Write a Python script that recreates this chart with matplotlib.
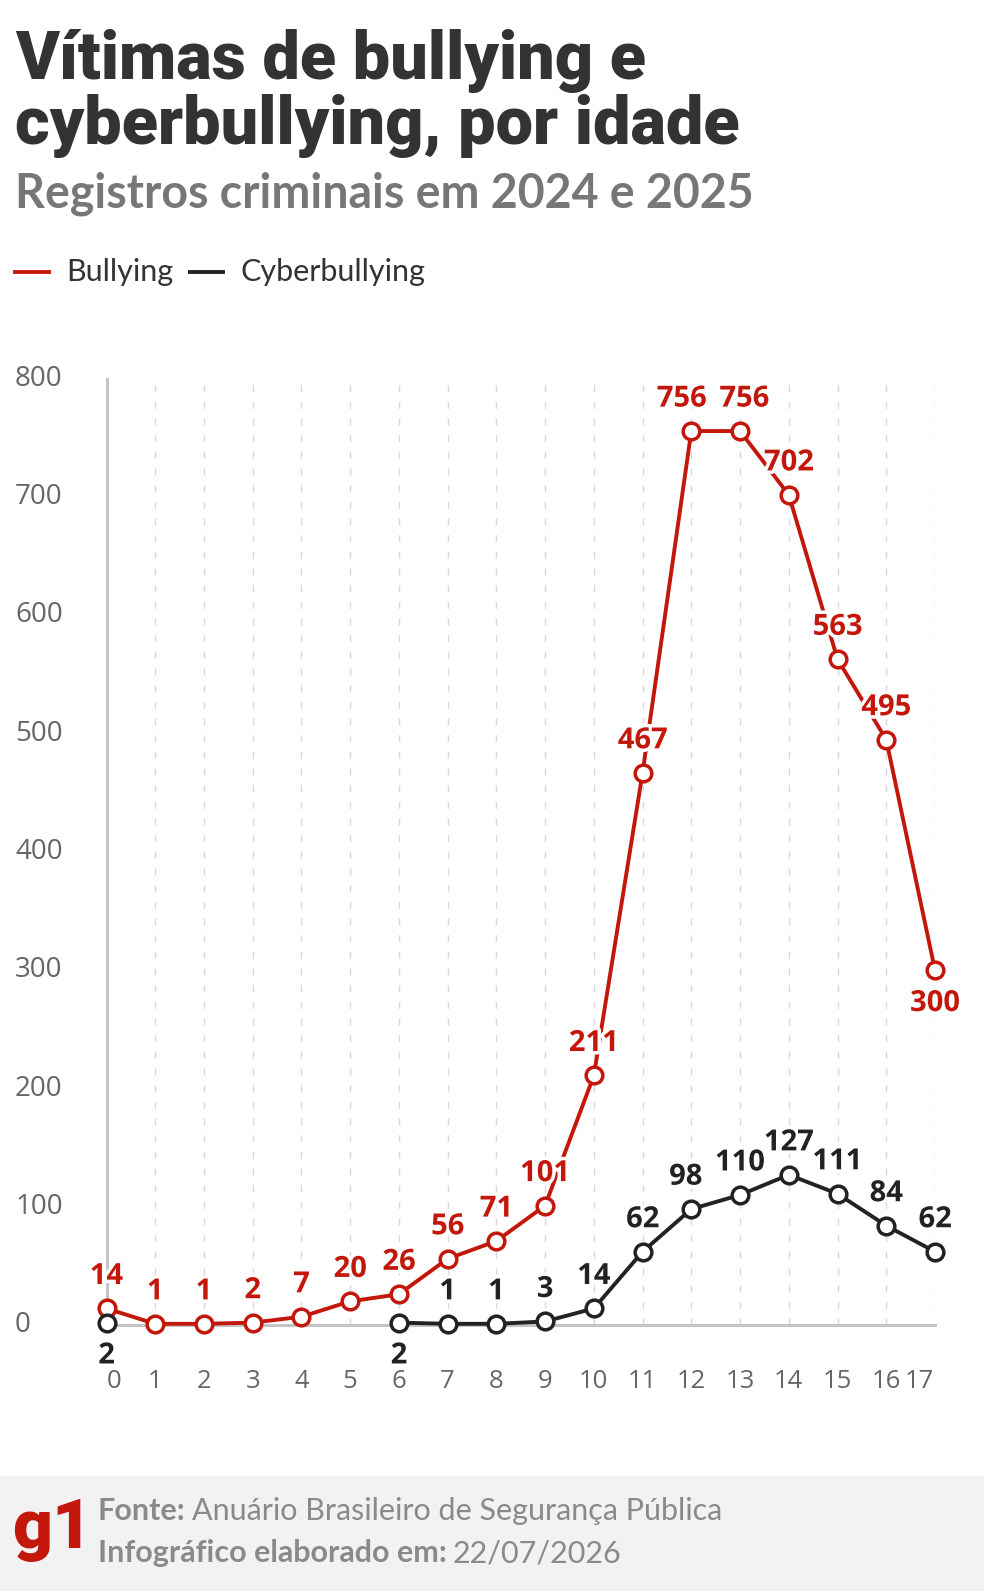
import matplotlib

matplotlib.use("Agg")
import matplotlib.pyplot as plt
import matplotlib.patheffects as pe
from matplotlib.lines import Line2D
from matplotlib.patches import Rectangle
from matplotlib.transforms import blended_transform_factory

# data
ages = list(range(18))
bullying = [14, 1, 1, 2, 7, 20, 26, 56, 71, 101, 211, 467, 756, 756, 702, 563, 495, 300]
cyber = [2, None, None, None, None, None, 2, 1, 1, 3, 14, 62, 98, 110, 127, 111, 84, 62]
yticks = [0, 100, 200, 300, 400, 500, 600, 700, 800]

# labels drawn below the point instead of above
bullying_below = [17]
cyber_below = [0, 6]
# small sideways nudges (points) where labels would collide
bullying_nudge = {12: -7, 13: 3}
cyber_nudge = {12: -4}

RED = "#c4170c"
DARK = "#222222"
TITLE = "#333333"
GRAY = "#777777"
HEAVY = "Roboto"
BODY = "Open Sans"

W, H = 984, 1591
fig = plt.figure(figsize=(W / 100, H / 100), dpi=100)


def fx(px):
    return px / W


def fy(py):
    return 1 - py / H


# plot area: age 0 at x=106.5, age 17 at x=935; y 0 at 1325, 800 at 379
ax = fig.add_axes([fx(106.5), fy(1325), fx(935 - 106.5), (1325 - 379) / H])
ax.set_xlim(0, 17)
ax.set_ylim(0, 800)

for a in ages[1:]:
    ax.axvline(a, color="#d9d9d9", lw=1, ls=(0, (5, 7)), zorder=0)

for s in ["top", "right"]:
    ax.spines[s].set_visible(False)
ax.spines["left"].set_color("#c4c4c4")
ax.spines["left"].set_linewidth(2.2)
ax.spines["bottom"].set_color("#c4c4c4")
ax.spines["bottom"].set_linewidth(2.2)

ax.tick_params(length=0)
ax.set_yticks(yticks)
ax.set_yticklabels([])
ytrans = blended_transform_factory(fig.transFigure, ax.transData)
for v in yticks:
    ax.text(fx(15), v, str(v), transform=ytrans, ha="left", va="center",
            fontsize=20, color="#666666", family=BODY)

ax.set_xticks(ages)
ax.set_xticklabels([])
for a in ages:
    ha, dx = "center", 0
    if a == 0:
        ha = "left"
    elif a == 17:
        ha, dx = "right", -1
    ax.annotate(str(a), xy=(a, 0), xytext=(dx, -41), textcoords="offset points",
                ha=ha, va="center", fontsize=18.5, color="#666666", family=BODY,
                annotation_clip=False)

stroke = [pe.withStroke(linewidth=5, foreground="white")]


def draw_series(values, color, below, nudge, zorder):
    xs = [a for a, v in zip(ages, values) if v is not None]
    ys = [v for v in values if v is not None]
    # split into contiguous segments so gaps stay empty
    segs, cur = [], []
    for a, v in zip(ages, values):
        if v is None:
            if cur:
                segs.append(cur)
            cur = []
        else:
            cur.append((a, v))
    if cur:
        segs.append(cur)
    for seg in segs:
        ax.plot([p[0] for p in seg], [p[1] for p in seg], color=color, lw=2.8,
                zorder=zorder, clip_on=False)
    ax.plot(xs, ys, ls="none", marker="o", ms=12, mfc="white", mec=color, mew=2.5,
            zorder=zorder + 1, clip_on=False)
    for a, v in zip(xs, ys):
        dy = -24 if a in below else 23
        ax.annotate(str(v), xy=(a, v), xytext=(nudge.get(a, 0), dy), textcoords="offset points",
                    ha="center", va="center", fontsize=21, fontweight="bold",
                    color=color, family=BODY, path_effects=stroke,
                    zorder=zorder + 2, annotation_clip=False)


draw_series(bullying, RED, bullying_below, bullying_nudge, 3)
draw_series(cyber, DARK, cyber_below, cyber_nudge, 6)

# titles
fig.text(fx(15), fy(79), "Vítimas de bullying e", fontsize=48, fontweight="black",
         color=TITLE, family=HEAVY, va="baseline")
fig.text(fx(15), fy(144), "cyberbullying, por idade", fontsize=48, fontweight="black",
         color=TITLE, family=HEAVY, va="baseline")
fig.text(fx(15), fy(207), "Registros criminais em 2024 e 2025", fontsize=33.5, fontweight="bold",
         color=GRAY, family="Lato", va="baseline")

# legend
fig.add_artist(Line2D([fx(15), fx(49)], [fy(272), fy(272)], color=RED, lw=2.8))
fig.text(fx(66), fy(272), "Bullying", fontsize=22, color=TITLE, family="Lato", va="center")
fig.add_artist(Line2D([fx(190), fx(223)], [fy(272), fy(272)], color=DARK, lw=2.8))
fig.text(fx(240), fy(272), "Cyberbullying", fontsize=22, color=TITLE, family="Lato", va="center")

# footer
fig.add_artist(Rectangle((0, 0), 1, fy(1476), transform=fig.transFigure,
                         facecolor="#f2f2f2", edgecolor="none", zorder=0))
fig.text(fx(12), fy(1530), "g1", fontsize=50, fontweight="black", color=RED,
         family=HEAVY, va="center")

fig.canvas.draw()
renderer = fig.canvas.get_renderer()


def footer_line(py, bold, regular):
    t = fig.text(fx(98), fy(py), bold, fontsize=22, fontweight="bold", color="#8a8a8a",
                 family="Lato", va="center")
    bb = t.get_window_extent(renderer)
    fig.text(fx(bb.x1 + 6), fy(py), regular, fontsize=22, color="#8a8a8a",
             family="Lato", va="center")


footer_line(1511, "Fonte:", "Anuário Brasileiro de Segurança Pública")
footer_line(1553, "Infográfico elaborado em:", "22/07/2026")

fig.savefig("out.png", dpi=100)
